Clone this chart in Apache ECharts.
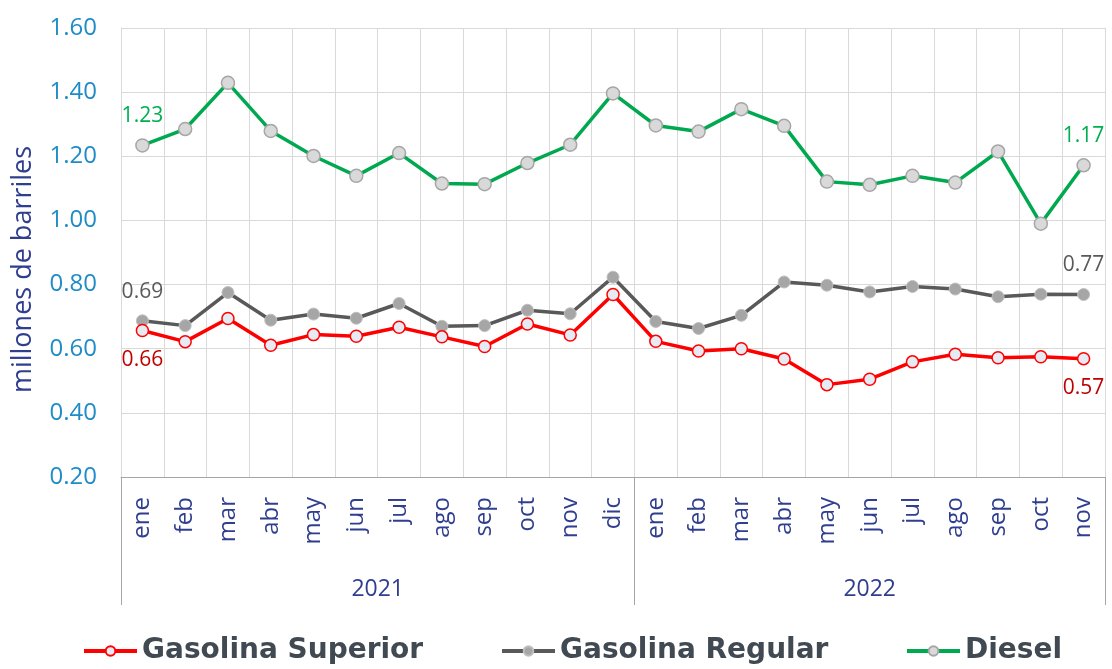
<!DOCTYPE html>
<html>
<head>
<meta charset="utf-8">
<title>Ventas de combustibles</title>
<script src="https://cdn.jsdelivr.net/npm/echarts@6/dist/echarts.min.js"></script>
<style>
  html, body { margin: 0; padding: 0; background: #fff; }
  #chart { width: 1112px; height: 669px; }
</style>
</head>
<body>
<div id="chart"></div>
<script>
// meses (2021: ene-dic, 2022: ene-nov)
const months = ['ene','feb','mar','abr','may','jun','jul','ago','sep','oct','nov','dic',
                'ene','feb','mar','abr','may','jun','jul','ago','sep','oct','nov'];
const years = ['2021', '2022'];
const yearCounts = [12, 11];
const seriesNames = ['Gasolina Superior', 'Gasolina Regular', 'Diesel'];

// millones de barriles
const superior = [0.657, 0.622, 0.694, 0.611, 0.644, 0.639, 0.667, 0.637, 0.607, 0.677, 0.643, 0.769,
                  0.623, 0.593, 0.600, 0.568, 0.488, 0.505, 0.559, 0.583, 0.572, 0.575, 0.569];
const regular = [0.687, 0.672, 0.775, 0.689, 0.708, 0.695, 0.741, 0.670, 0.672, 0.720, 0.709, 0.823,
                 0.685, 0.663, 0.704, 0.808, 0.798, 0.777, 0.794, 0.786, 0.762, 0.770, 0.769];
const diesel = [1.234, 1.285, 1.429, 1.279, 1.201, 1.139, 1.210, 1.115, 1.113, 1.179, 1.236, 1.396,
                1.296, 1.277, 1.347, 1.295, 1.121, 1.111, 1.139, 1.118, 1.215, 0.990, 1.172];

const font = '"Open Sans", "Noto Sans", sans-serif';
const legendFont = '"DejaVu Sans", "Open Sans", sans-serif';
const last = months.length - 1;

// limites y centros de cada año sobre el eje de valores 0..23
const yearEdges = [0];
const yearCenters = [];
yearCounts.forEach(c => {
  const start = yearEdges[yearEdges.length - 1];
  yearCenters.push(start + c / 2);
  yearEdges.push(start + c);
});

function endLabels(color, pos) {
  return {
    show: true,
    position: pos,
    distance: 12,
    color: color,
    fontFamily: font,
    fontSize: 21,
    formatter: p => (p.dataIndex === 0 || p.dataIndex === last) ? p.value.toFixed(2) : ''
  };
}

// una leyenda por serie para respetar su posición
const legendLefts = [77, 495, 900];
const legends = seriesNames.map((n, i) => ({
  left: legendLefts[i],
  top: 632,
  itemWidth: 53,
  itemHeight: 12,
  itemGap: 5,
  lineStyle: { width: 4 },
  textStyle: { fontFamily: legendFont, fontSize: 28, fontWeight: 'bold', color: '#414a52', padding: [0, 0, 0, 0] },
  data: [n]
}));

const chart = echarts.init(document.getElementById('chart'));

chart.setOption({
  animation: false,
  textStyle: { fontFamily: font },
  grid: { left: 121, right: 7, top: 28, bottom: 192 },
  legend: legends,
  xAxis: [
    {
      type: 'category',
      position: 'bottom',
      data: months,
      boundaryGap: true,
      axisLine: { show: true, lineStyle: { color: '#a6a6a6', width: 1 } },
      axisTick: { show: false },
      axisLabel: {
        interval: 0,
        rotate: 90,
        margin: 20,
        color: '#2f3e8f',
        fontFamily: font,
        fontSize: 24
      },
      splitLine: { show: true, interval: 0, lineStyle: { color: '#d9d9d9', width: 1 } }
    },
    {
      type: 'value',
      position: 'bottom',
      min: 0,
      max: yearEdges[yearEdges.length - 1],
      axisLine: { show: false },
      splitLine: { show: false },
      axisTick: {
        show: true,
        customValues: yearEdges,
        length: 128,
        lineStyle: { color: '#a6a6a6', width: 1 }
      },
      axisLabel: {
        customValues: yearCenters,
        margin: 101,
        color: '#2f3e8f',
        fontFamily: font,
        fontSize: 23,
        formatter: v => years[yearCenters.indexOf(v)] || ''
      }
    }
  ],
  yAxis: {
    type: 'value',
    min: 0.2,
    max: 1.6,
    interval: 0.2,
    name: 'millones de barriles',
    nameLocation: 'middle',
    nameGap: 84,
    nameTextStyle: { color: '#2f3e8f', fontFamily: font, fontSize: 27, padding: [0, 34, 0, 0] },
    axisLine: { show: true, lineStyle: { color: '#d9d9d9' } },
    axisTick: { show: false },
    axisLabel: {
      margin: 24,
      color: '#1f8bc8',
      fontFamily: font,
      fontSize: 24,
      formatter: v => v.toFixed(2)
    },
    splitLine: { show: true, lineStyle: { color: '#d9d9d9', width: 1 } }
  },
  series: [
    {
      name: seriesNames[0],
      type: 'line',
      data: superior,
      symbol: 'circle',
      symbolSize: 12,
      lineStyle: { color: '#ff0000', width: 3.5 },
      itemStyle: { color: '#e6eaf2', borderColor: '#ff0000', borderWidth: 1.5 },
      label: endLabels('#c00000', 'bottom'),
      z: 4
    },
    {
      name: seriesNames[1],
      type: 'line',
      data: regular,
      symbol: 'circle',
      symbolSize: 12,
      lineStyle: { color: '#595959', width: 3.5 },
      itemStyle: { color: '#a6a6a6', borderColor: '#bfbfbf', borderWidth: 1 },
      label: endLabels('#595959', 'top'),
      z: 3
    },
    {
      name: seriesNames[2],
      type: 'line',
      data: diesel,
      symbol: 'circle',
      symbolSize: 13,
      lineStyle: { color: '#00a94f', width: 3.5 },
      itemStyle: { color: '#d9d9d9', borderColor: '#a6a6a6', borderWidth: 1.5 },
      label: endLabels('#00b050', 'top'),
      z: 2
    }
  ]
});
</script>
</body>
</html>
